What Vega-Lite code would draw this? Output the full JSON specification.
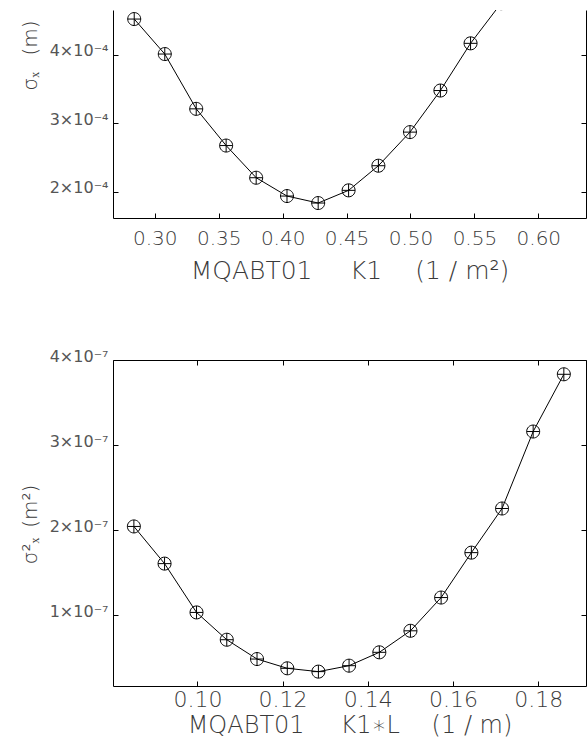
{
  "$schema": "https://vega.github.io/schema/vega-lite/v6.json",
  "background": "white",
  "padding": {"left": 20, "top": 10, "right": 0, "bottom": 0},
  "spacing": 142,
  "bounds": "flush",
  "config": {
    "view": {"stroke": null},
    "axis": {
      "grid": false,
      "domainColor": "black",
      "domainWidth": 1,
      "tickColor": "black",
      "tickWidth": 1,
      "tickSize": -5,
      "labelColor": "#3a3a3a",
      "titleColor": "#3a3a3a",
      "labelFont": "DejaVu Sans",
      "titleFont": "DejaVu Sans",
      "labelFontWeight": 200,
      "titleFontWeight": 200
    }
  },
  "datasets": {
    "scan": [
      {"k1": 0.2839, "sigma": 4.517e-4, "k1l": 0.0851, "sigma2": 2.043e-7},
      {"k1": 0.3078, "sigma": 4.007e-4, "k1l": 0.0923, "sigma2": 1.606e-7},
      {"k1": 0.3324, "sigma": 3.208e-4, "k1l": 0.0998, "sigma2": 1.032e-7},
      {"k1": 0.3558, "sigma": 2.673e-4, "k1l": 0.1069, "sigma2": 0.711e-7},
      {"k1": 0.3793, "sigma": 2.204e-4, "k1l": 0.1140, "sigma2": 0.484e-7},
      {"k1": 0.4034, "sigma": 1.937e-4, "k1l": 0.1211, "sigma2": 0.375e-7},
      {"k1": 0.4278, "sigma": 1.835e-4, "k1l": 0.1284, "sigma2": 0.336e-7},
      {"k1": 0.4516, "sigma": 2.020e-4, "k1l": 0.1356, "sigma2": 0.406e-7},
      {"k1": 0.4749, "sigma": 2.379e-4, "k1l": 0.1427, "sigma2": 0.563e-7},
      {"k1": 0.4996, "sigma": 2.869e-4, "k1l": 0.1500, "sigma2": 0.816e-7},
      {"k1": 0.5234, "sigma": 3.475e-4, "k1l": 0.1572, "sigma2": 1.207e-7},
      {"k1": 0.5470, "sigma": 4.163e-4, "k1l": 0.1643, "sigma2": 1.735e-7},
      {"k1": 0.5709, "sigma": 4.748e-4, "k1l": 0.1715, "sigma2": 2.254e-7},
      {"k1": 0.5948, "sigma": 5.621e-4, "k1l": 0.1788, "sigma2": 3.159e-7},
      {"k1": 0.6187, "sigma": 6.190e-4, "k1l": 0.1860, "sigma2": 3.832e-7}
    ]
  },
  "vconcat": [
    {
      "width": 473,
      "height": 208,
      "data": {"name": "scan"},
      "layer": [
        {
          "mark": {"type": "line", "color": "black", "strokeWidth": 1, "clip": true},
          "encoding": {
            "x": {
              "field": "k1", "type": "quantitative",
              "scale": {"domain": [0.2673, 0.6373], "nice": false, "zero": false},
              "axis": {
                "orient": "bottom",
                "values": [0.30, 0.35, 0.40, 0.45, 0.50, 0.55, 0.60],
                "format": ".2f",
                "labelFontSize": 20,
                "labelPadding": 15,
                "labelFlush": false,
                "title": "MQABT01\u2002\u2002\u2002K1\u2002\u2002\u00a0(1 / m²)",
                "titleFontSize": 25,
                "titleBaseline": "alphabetic",
                "titleY": 60
              }
            },
            "y": {
              "field": "sigma", "type": "quantitative",
              "scale": {"domain": [1.617e-4, 4.649e-4], "nice": false, "zero": false},
              "axis": {
                "orient": "left",
                "values": [0.0002, 0.0003, 0.0004],
                "labelExpr": "round(datum.value * 1e4) + '×10⁻⁴'",
                "labelFontSize": 16,
                "labelFontWeight": "normal",
                "labelColor": "#555",
                "labelPadding": 10,
                "labelBaseline": "alphabetic",
                "labelOffset": 1,
                "labelFlush": false,
                "title": "σₓ\u2002\u00a0(m)",
                "titleFontSize": 20,
                "titleAngle": -90,
                "titleAlign": "center",
                "titleBaseline": "alphabetic",
                "titleX": -77,
                "titleY": 45
              }
            }
          }
        },
        {
          "mark": {"type": "point", "shape": "M-1,0A1,1,0,1,1,1,0A1,1,0,1,1,-1,0M-1,0L1,0M0,-1L0,1", "size": 169, "filled": false, "stroke": "black", "strokeWidth": 1, "opacity": 1, "clip": true},
          "encoding": {
            "x": {"field": "k1", "type": "quantitative"},
            "y": {
              "field": "sigma", "type": "quantitative",
              "axis": {"orient": "right", "values": [0.0002, 0.0003, 0.0004], "labels": false, "title": null}
            }
          }
        }
      ],
      "resolve": {"axis": {"y": "independent"}}
    },
    {
      "width": 473,
      "height": 326,
      "data": {"name": "scan"},
      "layer": [
        {
          "mark": {"type": "line", "color": "black", "strokeWidth": 1, "clip": true},
          "encoding": {
            "x": {
              "field": "k1l", "type": "quantitative",
              "scale": {"domain": [0.0802, 0.1912], "nice": false, "zero": false},
              "axis": {
                "orient": "bottom",
                "values": [0.10, 0.12, 0.14, 0.16, 0.18],
                "format": ".2f",
                "labelFontSize": 22,
                "labelPadding": 8,
                "labelFlush": false,
                "title": "MQABT01\u2002\u2002\u2002K1∗L\u2002\u2002\u00a0(1 / m)",
                "titleFontSize": 24,
                "titleBaseline": "alphabetic",
                "titleY": 46
              }
            },
            "y": {
              "field": "sigma2", "type": "quantitative",
              "scale": {"domain": [1.67e-8, 4e-7], "nice": false, "zero": false},
              "axis": {
                "orient": "left",
                "values": [1e-7, 2e-7, 3e-7, 4e-7],
                "labelExpr": "round(datum.value * 1e7) + '×10⁻⁷'",
                "labelFontSize": 16,
                "labelFontWeight": "normal",
                "labelColor": "#555",
                "labelPadding": 10,
                "labelBaseline": "alphabetic",
                "labelOffset": 1,
                "labelFlush": false,
                "title": "σ²ₓ\u2002(m²)",
                "titleFontSize": 20,
                "titleAngle": -90,
                "titleAlign": "center",
                "titleBaseline": "alphabetic",
                "titleX": -77,
                "titleY": 164
              }
            }
          }
        },
        {
          "mark": {"type": "point", "shape": "M-1,0A1,1,0,1,1,1,0A1,1,0,1,1,-1,0M-1,0L1,0M0,-1L0,1", "size": 169, "filled": false, "stroke": "black", "strokeWidth": 1, "opacity": 1, "clip": true},
          "encoding": {
            "x": {
              "field": "k1l", "type": "quantitative",
              "axis": {"orient": "top", "values": [0.10, 0.12, 0.14, 0.16, 0.18], "labels": false, "title": null}
            },
            "y": {
              "field": "sigma2", "type": "quantitative",
              "axis": {"orient": "right", "values": [1e-7, 2e-7, 3e-7, 4e-7], "labels": false, "title": null}
            }
          }
        }
      ],
      "resolve": {"axis": {"x": "independent", "y": "independent"}}
    }
  ]
}
